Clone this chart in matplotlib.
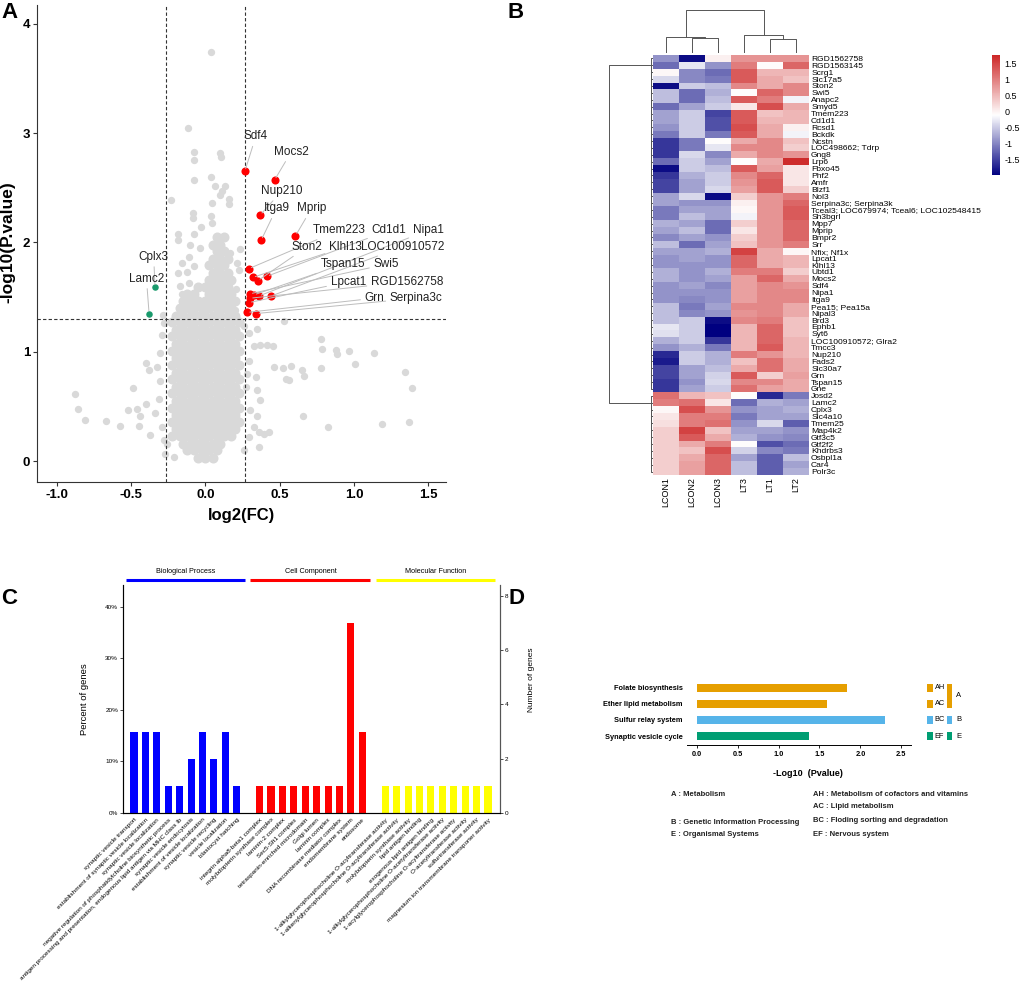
import matplotlib.pyplot as plt
import numpy as np
from matplotlib.colors import LinearSegmentedColormap

plt.rcParams['font.family'] = ['Liberation Sans', 'DejaVu Sans']

W, H = 1024, 993


def box(left, top, width, height):
    # pixel box measured from the top-left corner -> figure fraction
    return [left / W, 1 - (top + height) / H, width / W, height / H]


# ---------------- A: volcano plot ----------------
fc_cut = 0.263
p_cut = 1.301

row_even = [-0.20, -0.15, -0.10, -0.05, 0.0, 0.05, 0.10, 0.15, 0.20]
row_odd = [-0.225, -0.175, -0.125, -0.075, -0.025, 0.025, 0.075, 0.125, 0.175, 0.225]
core_rows = [
    (0.03, [-0.05, 0.0, 0.05]),
    (0.10, [-0.125, -0.075, -0.025, 0.025, 0.075]),
    (0.16, [-0.15, -0.10, -0.05, 0.0, 0.05, 0.10]),
    (0.23, [-0.225, -0.175, -0.125, -0.075, -0.025, 0.025, 0.075, 0.125, 0.175]),
    (0.29, row_even), (0.36, row_odd), (0.42, row_even), (0.49, row_odd),
    (0.55, row_even), (0.62, row_odd), (0.68, row_even), (0.75, row_odd),
    (0.81, row_even), (0.88, row_odd), (0.94, row_even), (1.01, row_odd),
    (1.07, row_even), (1.14, row_odd), (1.20, row_even), (1.27, row_odd),
    (1.33, row_even),
    (1.40, [-0.175, -0.125, -0.075, -0.025, 0.025, 0.075, 0.125, 0.175]),
    (1.46, [-0.15, -0.10, -0.05, 0.0, 0.05, 0.10, 0.15, 0.20]),
    (1.53, [-0.125, -0.075, 0.025, 0.075, 0.125, 0.175]),
    (1.59, [-0.05, 0.0, 0.05, 0.10, 0.15]),
    (1.66, [0.025, 0.075, 0.125, 0.175]),
    (1.72, [0.05, 0.10, 0.15]),
    (1.79, [0.025, 0.075, 0.125]),
    (1.85, [0.05, 0.10, 0.15]),
    (1.92, [0.075, 0.125]),
    (1.98, [0.05, 0.10]),
    (2.05, [0.075, 0.125]),
]

gray_pts = [
    (0.038, 3.74), (-0.117, 3.05), (-0.075, 2.83), (-0.077, 2.75), (0.098, 2.82),
    (0.107, 2.78), (-0.075, 2.57), (0.038, 2.60), (0.067, 2.52), (0.134, 2.52),
    (0.112, 2.47), (0.157, 2.40), (0.161, 2.35), (0.101, 2.43), (0.045, 2.36),
    (-0.232, 2.39), (-0.086, 2.27), (-0.086, 2.22), (0.038, 2.24), (0.045, 2.18),
    (-0.027, 2.14), (-0.079, 2.08), (-0.185, 2.08), (-0.182, 2.02), (-0.106, 1.98),
    (-0.034, 1.95), (0.231, 1.94), (0.168, 1.90), (0.215, 1.81), (0.226, 1.75),
    (-0.113, 1.87), (-0.158, 1.81), (-0.079, 1.78), (-0.187, 1.72), (-0.124, 1.73),
    (-0.169, 1.60), (-0.113, 1.63), (-0.158, 1.53), (0.208, 1.57), (0.190, 1.47),
    (0.202, 1.38), (-0.290, 1.15), (-0.281, 1.26), (-0.288, 1.34), (0.258, 1.24),
    (0.292, 1.17), (0.348, 1.21), (0.370, 1.06), (0.415, 1.06), (0.456, 1.05),
    (0.527, 1.28), (0.775, 1.12), (0.786, 1.03), (0.882, 1.02), (0.887, 0.98),
    (0.965, 1.01), (1.134, 0.99), (1.004, 0.89), (0.781, 0.85), (0.651, 0.83),
    (0.662, 0.78), (0.579, 0.87), (0.523, 0.85), (0.460, 0.86), (0.545, 0.75),
    (0.561, 0.74), (1.347, 0.82), (1.388, 0.67), (1.370, 0.36), (1.186, 0.34),
    (0.826, 0.31), (0.658, 0.41), (0.426, 0.27), (0.359, 0.27), (0.325, 1.05),
    (0.292, 0.92), (0.337, 0.77), (0.348, 0.65), (0.370, 0.56), (0.303, 0.47),
    (0.348, 0.41), (0.325, 0.31), (0.393, 0.25), (0.359, 0.13), (0.280, 0.80),
    (0.270, 0.68), (0.290, 0.22), (0.258, 0.10), (-0.879, 0.61), (-0.861, 0.48),
    (-0.814, 0.38), (-0.670, 0.37), (-0.578, 0.32), (-0.488, 0.67), (-0.524, 0.47),
    (-0.461, 0.48), (-0.438, 0.41), (-0.450, 0.32), (-0.400, 0.90), (-0.382, 0.83),
    (-0.400, 0.52), (-0.371, 0.24), (-0.337, 0.44), (-0.308, 0.73), (-0.292, 0.31),
    (-0.281, 0.19), (-0.315, 0.57), (-0.304, 0.99), (-0.326, 0.86), (-0.270, 0.07),
    (-0.259, 0.16), (-0.214, 0.04),
]

up_genes = ['Sdf4', 'Mocs2', 'Nup210', 'Itga9', 'Mprip', 'Tmem223', 'Cd1d1', 'Nipa1',
            'Ston2', 'Klhl13', 'LOC100910572', 'Tspan15', 'Swi5', 'Lpcat1',
            'RGD1562758', 'Grn', 'Serpina3c']
up_fc = [0.265, 0.465, 0.368, 0.375, 0.606, 0.292, 0.413, 0.359,
         0.352, 0.318, 0.442, 0.325, 0.298, 0.292, 0.300, 0.280, 0.343]
up_p = [2.65, 2.57, 2.25, 2.02, 2.06, 1.76, 1.69, 1.51,
        1.65, 1.68, 1.51, 1.52, 1.53, 1.45, 1.49, 1.36, 1.35]
down_genes = ['Cplx3', 'Lamc2']
down_fc = [-0.340, -0.380]
down_p = [1.59, 1.35]

# label placement (layout only)
label_at = {
    'Sdf4': (0.339, 2.97), 'Mocs2': (0.579, 2.83), 'Nup210': (0.514, 2.47),
    'Itga9': (0.478, 2.31), 'Mprip': (0.714, 2.31), 'Tmem223': (0.898, 2.11),
    'Cd1d1': (1.235, 2.11), 'Nipa1': (1.50, 2.11), 'Ston2': (0.685, 1.96),
    'Klhl13': (0.943, 1.96), 'LOC100910572': (1.325, 1.96), 'Tspan15': (0.927, 1.80),
    'Swi5': (1.217, 1.80), 'Lpcat1': (0.961, 1.64), 'RGD1562758': (1.358, 1.64),
    'Grn': (1.138, 1.49), 'Serpina3c': (1.419, 1.49),
    'Cplx3': (-0.349, 1.87), 'Lamc2': (-0.398, 1.67),
}

# ---------------- B: heatmap ----------------
samples = ['LCON1', 'LCON2', 'LCON3', 'LT3', 'LT1', 'LT2']
genes = ['RGD1562758', 'RGD1563145', 'Scrg1', 'Slc17a5', 'Ston2', 'Swi5', 'Anapc2',
         'Smyd5', 'Tmem223', 'Cd1d1', 'Rcsd1', 'Bckdk', 'Ncstn', 'LOC498662; Tdrp',
         'Gng8', 'Lrp6', 'Fbxo45', 'Phf2', 'Amfr', 'Blzf1', 'Nol3',
         'Serpina3c; Serpina3k', 'Tceal3; LOC679974; Tceal6; LOC102548415',
         'Sh3bgrl', 'Mpp7', 'Mprip', 'Bmpr2', 'Srr', 'Nfix; Nf1x', 'Lpcat1', 'Klhl13',
         'Ubtd1', 'Mocs2', 'Sdf4', 'Nipa1', 'Itga9', 'Pea15; Pea15a', 'Nipal3', 'Brd3',
         'Ephb1', 'Syt6', 'LOC100910572; Glra2', 'Tmcc3', 'Nup210', 'Fads2', 'Slc30a7',
         'Grn', 'Tspan15', 'Gne', 'Josd2', 'Lamc2', 'Cplx3', 'Slc4a10', 'Tmem25',
         'Map4k2', 'Gtf3c5', 'Gtf2f2', 'Khdrbs3', 'Osbpl1a', 'Car4', 'Polr3c']
expr = np.array([
    [-0.9, -1.9, 0.0, 0.8, 0.8, 0.8],
    [-1.2, -0.3, -0.9, 1.0, -0.1, 1.2],
    [-0.05, -1.0, -1.2, 1.3, 0.5, 0.5],
    [-0.4, -1.0, -1.1, 1.3, 0.6, 0.4],
    [-1.9, -0.5, -0.6, 0.9, 0.6, 0.9],
    [-0.6, -1.2, -0.7, -0.1, 1.2, 0.9],
    [-0.6, -1.2, -0.6, 1.3, 1.0, -0.2],
    [-1.2, -0.8, -0.5, 0.1, 1.4, 0.6],
    [-0.8, -0.5, -1.5, 1.3, 0.4, 0.5],
    [-0.8, -0.5, -1.4, 1.3, 0.5, 0.5],
    [-0.9, -0.5, -1.4, 1.4, 0.6, 0.0],
    [-1.1, -0.5, -1.1, 1.3, 0.6, -0.2],
    [-1.6, -1.1, -0.1, 0.6, 0.9, 0.4],
    [-1.6, -1.1, -0.3, 0.9, 0.9, 0.3],
    [-1.6, -0.4, -1.0, 0.6, 0.9, 0.8],
    [-1.2, -0.5, -0.8, -0.1, 0.6, 1.7],
    [-1.9, -0.5, -0.6, 1.3, 0.7, 0.1],
    [-1.6, -0.7, -0.5, 0.9, 1.2, 0.1],
    [-1.5, -0.8, -0.5, 0.8, 1.3, 0.1],
    [-1.5, -0.8, -0.4, 0.7, 1.3, 0.3],
    [-0.8, -0.4, -1.9, 0.3, 0.8, 1.0],
    [-0.8, -0.9, -0.9, 0.0, 0.8, 1.2],
    [-1.1, -0.8, -0.8, -0.05, 0.8, 1.3],
    [-1.1, -0.6, -0.8, -0.2, 0.8, 1.3],
    [-0.7, -0.8, -1.2, 0.3, 0.8, 1.2],
    [-0.8, -0.6, -1.2, 0.1, 0.8, 1.2],
    [-1.0, -0.8, -0.9, 0.3, 0.8, 1.2],
    [-0.6, -1.2, -0.8, 0.4, 0.8, 1.0],
    [-0.8, -0.8, -0.7, 1.5, 0.6, -0.05],
    [-0.9, -0.8, -0.9, 1.2, 0.6, 0.5],
    [-0.9, -0.9, -0.9, 1.2, 0.6, 0.5],
    [-0.7, -0.9, -0.7, 1.0, 1.0, 0.3],
    [-0.7, -0.9, -0.8, 0.7, 1.2, 0.6],
    [-0.9, -0.8, -1.0, 0.7, 0.9, 0.8],
    [-0.9, -0.9, -0.9, 0.7, 0.9, 0.9],
    [-0.9, -1.0, -0.9, 0.7, 0.9, 0.9],
    [-0.6, -1.1, -0.8, 0.9, 0.9, 0.6],
    [-0.6, -1.0, -0.9, 0.8, 0.9, 0.6],
    [-0.6, -0.5, -1.9, 0.9, 1.0, 0.4],
    [-0.3, -0.5, -2.0, 0.5, 1.2, 0.4],
    [-0.35, -0.5, -2.0, 0.5, 1.2, 0.4],
    [-0.7, -0.5, -1.6, 0.5, 1.2, 0.5],
    [-0.9, -0.7, -1.1, 0.5, 1.3, 0.5],
    [-1.7, -0.5, -0.7, 1.0, 0.8, 0.5],
    [-1.8, -0.5, -0.7, 0.4, 1.1, 0.6],
    [-1.5, -0.8, -0.6, 0.6, 1.1, 0.6],
    [-1.5, -0.8, -0.45, 1.3, 0.3, 0.7],
    [-1.6, -0.9, -0.4, 0.9, 0.9, 0.6],
    [-1.6, -0.8, -0.5, 1.1, 0.7, 0.6],
    [1.1, 0.5, 0.4, -0.1, -1.7, -1.1],
    [1.0, 1.1, 0.1, -1.2, -0.7, -0.8],
    [-0.05, 1.4, 0.8, -0.9, -0.8, -0.7],
    [0.1, 1.0, 1.0, -1.1, -0.8, -0.8],
    [0.15, 1.0, 1.1, -0.9, -0.4, -1.3],
    [0.3, 1.5, 0.4, -0.8, -0.8, -0.9],
    [0.3, 1.3, 0.6, -0.7, -0.9, -1.0],
    [0.3, 0.6, 1.0, -0.1, -1.4, -1.2],
    [0.3, 0.4, 1.4, -0.45, -1.0, -1.1],
    [0.3, 0.6, 1.2, -0.8, -1.3, -0.6],
    [0.3, 0.7, 1.2, -0.6, -1.3, -0.8],
    [0.3, 0.7, 1.2, -0.6, -1.3, -0.7],
])
col_linkage = [[1, 2, 15.5], [0, 6, 16.5], [4, 5, 13.7], [3, 8, 18.0], [7, 9, 43.0]]
row_groups = [49, 12]

# ---------------- C: GO bars ----------------
total_genes = 19
bp_terms = ['synaptic vesicle transport', 'establishment of synaptic vesicle localization',
            'synaptic vesicle localization',
            'negative regulation of phosphatidylcholine biosynthetic process',
            'antigen processing and presentation, endogenous lipid antigen via MHC class Ib',
            'synaptic vesicle endocytosis', 'establishment of vesicle localization',
            'synaptic vesicle recycling', 'vesicle localization', 'blastocyst hatching']
bp_counts = [3, 3, 3, 1, 1, 2, 3, 2, 3, 1]
cc_terms = ['integrin alpha8-beta1 complex', 'molybdopterin synthase complex',
            'laminin-2 complex', 'Sec5-Sft1 complex', 'tetraspanin-enriched microdomain',
            'Golgi lumen', 'laminin complex', 'DNA recombinase mediator complex',
            'endomembrane system', 'endosome']
cc_counts = [1, 1, 1, 1, 1, 1, 1, 1, 7, 3]
mf_terms = ['1-alkylglycerophosphocholine O-acyltransferase activity',
            '1-alkenylglycerophosphocholine O-acyltransferase activity',
            'molybdopterin synthase activity', 'lipid antigen binding',
            'exogenous lipid antigen binding',
            '1-alkylglycerophosphocholine O-acetyltransferase activity',
            '1-acylglycerophosphocholine O-acyltransferase activity',
            'O-acetyltransferase activity', 'sulfurtransferase activity',
            'magnesium ion transmembrane transporter activity']
mf_counts = [1, 1, 1, 1, 1, 1, 1, 1, 1, 1]
go_groups = ['Biological Process', 'Cell Component', 'Molecular Function']

# ---------------- D: KEGG bars ----------------
pathways = ['Folate biosynthesis', 'Ether lipid metabolism', 'Sulfur relay system',
            'Synaptic vesicle cycle']
neg_log_p = [1.84, 1.59, 2.30, 1.37]
sub_class = ['AH', 'AC', 'BC', 'EF']
main_class = ['A', 'A', 'B', 'E']
class_notes_left = [('A : Metabolism', 794), ('B : Genetic Information Processing', 822),
                    ('E : Organismal Systems', 835)]
class_notes_right = [('AH : Metabolism of cofactors and vitamins', 794),
                     ('AC : Lipid metabolism', 807),
                     ('BC : Floding sorting and degradation', 821),
                     ('EF : Nervous system', 834)]

fig = plt.figure(figsize=(W / 100, H / 100), dpi=100)

# ===== panel A =====
axA = fig.add_axes(box(37, 5, 409, 477))
core_x = [x for y, xs in core_rows for x in xs]
core_y = [y for y, xs in core_rows for x in xs]
gx, gy = zip(*gray_pts)
axA.scatter(core_x, core_y, s=52, c='#d9d9d9', linewidths=0, zorder=1)
axA.scatter(gx, gy, s=28, c='#d9d9d9', linewidths=0, zorder=1)
axA.axvline(-fc_cut, color='#333333', lw=0.8, ls=(0, (3, 2)), zorder=2)
axA.axvline(fc_cut, color='#333333', lw=0.8, ls=(0, (3, 2)), zorder=2)
axA.axhline(p_cut, color='#333333', lw=0.8, ls=(0, (3, 2)), zorder=2)
axA.scatter(up_fc, up_p, s=34, c='#ff0000', linewidths=0, zorder=4)
axA.scatter(down_fc, down_p, s=22, c='#1a9a6c', linewidths=0, zorder=4)
for genes_, xs_, ys_ in [(up_genes, up_fc, up_p), (down_genes, down_fc, down_p)]:
    for g, x, y in zip(genes_, xs_, ys_):
        axA.annotate(g, (x, y), xytext=label_at[g], ha='center', va='center',
                     fontsize=8.5, color='#222222', zorder=5,
                     arrowprops=dict(arrowstyle='-', color='#bdbdbd', lw=0.7,
                                     shrinkA=1, shrinkB=2))
axA.set_xlim(-1.135, 1.62)
axA.set_ylim(-0.19, 4.17)
axA.set_xticks([-1.0, -0.5, 0.0, 0.5, 1.0, 1.5])
axA.set_xticklabels(['-1.0', '-0.5', '0.0', '0.5', '1.0', '1.5'], fontweight='bold')
axA.set_yticks([0, 1, 2, 3, 4])
axA.set_yticklabels(['0', '1', '2', '3', '4'], fontweight='bold')
axA.tick_params(labelsize=9.5, length=3, width=0.8, color='#333333', pad=2)
for s in ['top', 'right']:
    axA.spines[s].set_visible(False)
for s in ['left', 'bottom']:
    axA.spines[s].set_color('#333333')
axA.set_xlabel('log2(FC)', fontsize=12, fontweight='bold')
axA.xaxis.set_label_coords(0.5, (482 - 508) / 477)
axA.set_ylabel('-log10(P.value)', fontsize=12.5, fontweight='bold')
axA.yaxis.set_label_coords((15 - 37) / 409, (482 - 242) / 477)

# ===== panel B =====
cmap = LinearSegmentedColormap.from_list('nwr', ['#000080', '#ffffff', '#cd2626'])
axH = fig.add_axes(box(653, 55, 156, 420))
im = axH.imshow(expr, cmap=cmap, vmin=-2.0, vmax=1.76, aspect='auto',
                interpolation='nearest')
axH.set_yticks(range(len(genes)))
axH.set_yticklabels(genes, fontsize=6.1)
axH.yaxis.tick_right()
axH.set_xticks(range(len(samples)))
axH.set_xticklabels(samples, rotation=90, fontsize=6.5)
axH.tick_params(length=0, pad=1.5)
for s in axH.spines.values():
    s.set_visible(False)


def draw_dendro(ax, linkage, n, vertical):
    pos = {i: float(i) for i in range(n)}
    hgt = {i: 0.0 for i in range(n)}
    for k, (a, b, h) in enumerate(linkage):
        p = [pos[a], pos[a], pos[b], pos[b]]
        q = [hgt[a], h, h, hgt[b]]
        if vertical:
            ax.plot(p, q, color='#555555', lw=0.7)
        else:
            ax.plot(q, p, color='#555555', lw=0.7)
        pos[n + k] = (pos[a] + pos[b]) / 2
        hgt[n + k] = h


axCD = fig.add_axes(box(653, 8, 156, 45))
draw_dendro(axCD, col_linkage, len(samples), True)
axCD.set_xlim(-0.5, len(samples) - 0.5)
axCD.set_ylim(0, 45)
axCD.axis('off')

# row tree: each block is a tight chain, the two blocks join far out
row_linkage = []
roots = []
start = 0
node = len(genes)
for size in row_groups:
    stop = start + size
    cur = stop - 1
    for i in range(stop - 2, start - 1, -1):
        row_linkage.append([i, cur, 1.6])
        cur = node
        node += 1
    roots.append(cur)
    start = stop
row_linkage.append([roots[0], roots[1], 44.0])
axRD = fig.add_axes(box(604, 55, 49, 420))
draw_dendro(axRD, row_linkage, len(genes), False)
axRD.set_xlim(49, 0)
axRD.set_ylim(len(genes) - 0.5, -0.5)
axRD.axis('off')

axCB = fig.add_axes(box(992, 55, 8, 120))
cb = fig.colorbar(im, cax=axCB, ticks=[1.5, 1, 0.5, 0, -0.5, -1, -1.5])
cb.ax.set_yticklabels(['1.5', '1', '0.5', '0', '-0.5', '-1', '-1.5'], fontsize=6.5)
cb.ax.tick_params(length=0, pad=3)
cb.outline.set_visible(False)

# ===== panel C =====
axC = fig.add_axes(box(123, 585, 377, 228))
go_terms = bp_terms + cc_terms + mf_terms
go_counts = bp_counts + cc_counts + mf_counts
go_pos = list(range(0, 10)) + list(range(11, 21)) + list(range(22, 32))
go_colors = ['#0000ff'] * len(bp_terms) + ['#ff0000'] * len(cc_terms) + ['#ffff00'] * len(mf_terms)
go_pct = [c / total_genes * 100 for c in go_counts]
axC.bar(go_pos, go_pct, width=0.62, color=go_colors)
axC.set_xlim(-0.96, 32.05)
axC.set_ylim(0, 44.2)
axC.set_yticks([0, 10, 20, 30, 40])
axC.set_yticklabels(['0%', '10%', '20%', '30%', '40%'])
axC.set_xticks(go_pos)
axC.set_xticklabels(go_terms, rotation=45, ha='right', rotation_mode='anchor', fontsize=4.6)
axC.tick_params(axis='y', labelsize=4.6, length=2, width=0.5, pad=1.5)
axC.tick_params(axis='x', length=0, pad=3)
axC.spines['top'].set_visible(False)
for s in ['left', 'bottom', 'right']:
    axC.spines[s].set_color('#555555')
    axC.spines[s].set_linewidth(0.8)
axC.set_ylabel('Percent of genes', fontsize=6.8)
axC.yaxis.set_label_coords((89 - 123) / 377, 0.5)
axC2 = axC.twinx()
axC2.set_ylim(0, 44.2 * total_genes / 100)
axC2.set_yticks([0, 2, 4, 6, 8])
axC2.tick_params(labelsize=4.6, length=2, width=0.5, pad=1.5)
axC2.spines['top'].set_visible(False)
axC2.spines['right'].set_color('#555555')
axC2.spines['right'].set_linewidth(0.8)
axC2.set_ylabel('Number of genes', fontsize=6)
axC2.yaxis.set_label_coords((528 - 123) / 377, (813 - 680) / 228)
group_span = [(-0.7, 9.7, '#0000ff'), (10.2, 20.7, '#ff0000'), (21.2, 31.6, '#ffff00')]
for name, (x0, x1, col) in zip(go_groups, group_span):
    axC.plot([x0, x1], [45.2, 45.2], color=col, lw=2.2, clip_on=False,
             solid_capstyle='butt')
    axC.text((x0 + x1) / 2, 46.9, name, ha='center', va='center', fontsize=5.2,
             clip_on=False)

# ===== panel D =====
class_color = {'A': '#e69f00', 'B': '#56b4e9', 'E': '#009e73'}
bar_cols = [class_color[c] for c in main_class]
axD = fig.add_axes(box(687, 678, 224, 67))
rows = range(len(pathways))
axD.barh(rows, neg_log_p, height=0.46, color=bar_cols)
axD.set_ylim(3.56, -0.62)
axD.set_xlim(-0.12, 2.62)
axD.set_yticks(list(rows))
axD.set_yticklabels(pathways, fontsize=5.3, fontweight='bold')
axD.set_xticks([0, 0.5, 1.0, 1.5, 2.0, 2.5])
axD.set_xticklabels(['0.0', '0.5', '1.0', '1.5', '2.0', '2.5'], fontsize=5.3,
                    fontweight='bold')
axD.tick_params(axis='y', length=0, pad=3)
axD.tick_params(axis='x', length=2.5, width=0.6, pad=2)
for s in ['top', 'right', 'left']:
    axD.spines[s].set_visible(False)
axD.spines['bottom'].set_linewidth(0.7)
axD.set_xlabel('-Log10  (Pvalue)', fontsize=6.5, fontweight='bold')
axD.xaxis.set_label_coords((808 - 687) / 224, (745 - 769) / 67)

axK = fig.add_axes(box(920, 678, 55, 67))
axK.set_ylim(3.56, -0.62)
axK.set_xlim(0, 1)
axK.axis('off')
axK.barh(list(rows), [0.11] * len(rows), left=0.127, height=0.46, color=bar_cols)
for r, code in zip(rows, sub_class):
    axK.text(0.265, r, code, va='center', ha='left', fontsize=5.3)
for c in ['A', 'B', 'E']:
    idx = [r for r, m in zip(rows, main_class) if m == c]
    y0, y1 = min(idx) - 0.23, max(idx) + 0.23
    axK.bar(0.535, y1 - y0, bottom=y0, width=0.09, color=class_color[c])
    axK.text(0.66, (y0 + y1) / 2, c, va='center', ha='left', fontsize=5.5)

for txt, y in class_notes_left:
    fig.text(671 / W, 1 - y / H, txt, fontsize=5.5, fontweight='bold', va='center',
             color='#222222')
for txt, y in class_notes_right:
    fig.text(813 / W, 1 - y / H, txt, fontsize=5.5, fontweight='bold', va='center',
             color='#222222')

# panel letters
for letter, (x, y) in {'A': (10, 13), 'B': (516, 12), 'C': (9, 598), 'D': (517, 598)}.items():
    fig.text(x / W, 1 - y / H, letter, fontsize=16, fontweight='bold', ha='center',
             va='center')

fig.savefig('out.png', dpi=100)
